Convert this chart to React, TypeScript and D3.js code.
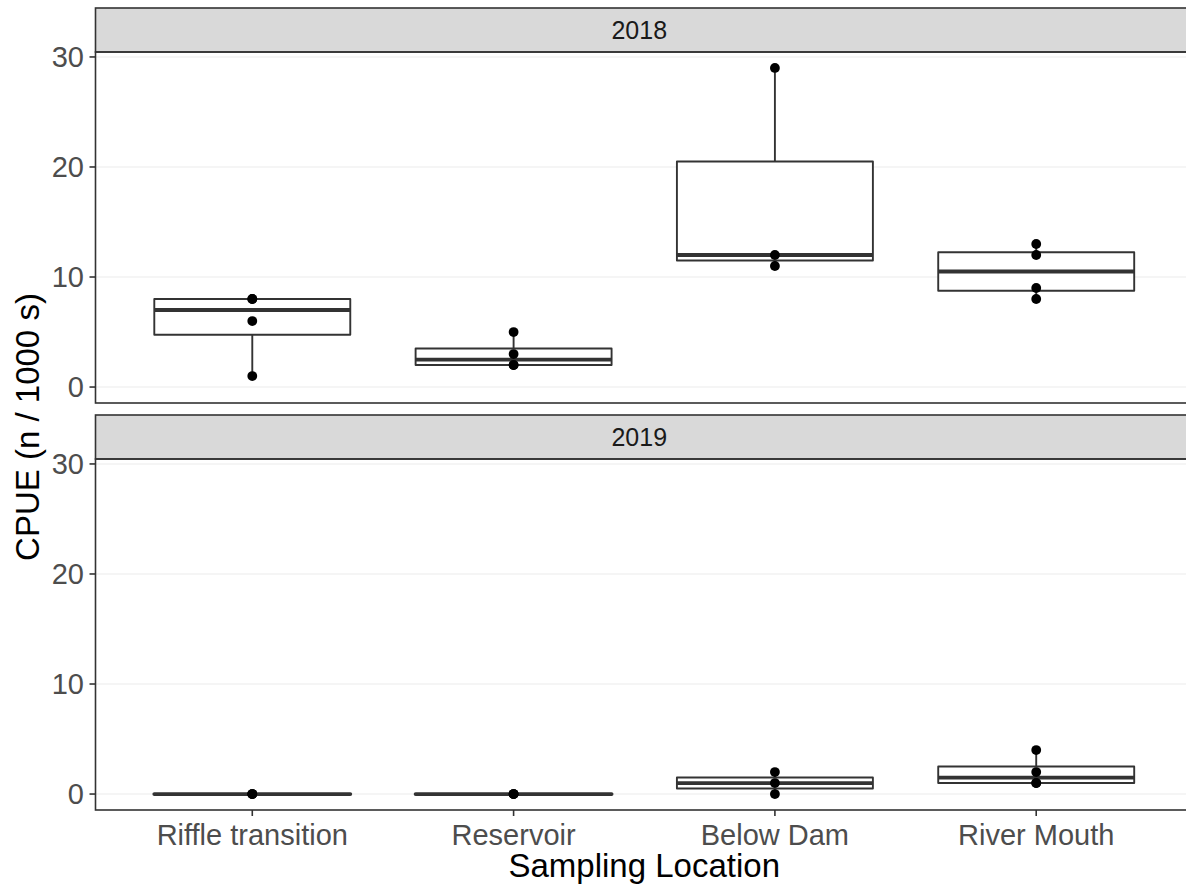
import React from "react";
import * as d3 from "d3";

const categories = ["Riffle transition", "Reservoir", "Below Dam", "River Mouth"];
const years = ["2018", "2019"];
const cpue2018 = [[1, 6, 8, 8], [2, 2, 3, 5], [11, 12, 29], [8, 9, 12, 13]];
const cpue2019 = [[0, 0, 0], [0, 0, 0], [0, 1, 2], [1, 1, 2, 4]];
const yTicks = [0, 10, 20, 30];

const W = 1186;
const H = 886;
const FONT = "'Liberation Sans', Arial, Helvetica, sans-serif";
const panelLeft = 95.5;
const panelRight = 1193;
const panels = [
  { stripTop: 8, plotTop: 52, plotBottom: 403 },
  { stripTop: 415, plotTop: 459, plotBottom: 810 },
];
const seriesByYear = [cpue2018, cpue2019];

function boxStats(vals: number[]) {
  const s = [...vals].sort((a, b) => a - b);
  const q1 = d3.quantile(s, 0.25) as number;
  const med = d3.quantile(s, 0.5) as number;
  const q3 = d3.quantile(s, 0.75) as number;
  const iqr = q3 - q1;
  const lo = d3.min(s.filter((v) => v >= q1 - 1.5 * iqr)) as number;
  const hi = d3.max(s.filter((v) => v <= q3 + 1.5 * iqr)) as number;
  return { q1, med, q3, lo, hi };
}

export default function App() {
  const allVals = [...cpue2018.flat(), ...cpue2019.flat()];
  const dmin = d3.min(allVals) as number;
  const dmax = d3.max(allVals) as number;
  const pad = (dmax - dmin) * 0.05;
  const x = d3.scalePoint<string>().domain(categories).range([panelLeft, panelRight]).padding(0.6);
  const bw = x.step() * 0.75;
  const stroke = "#333333";

  return (
    <div style={{ position: "absolute", left: 0, top: 0 }}>
      <svg width={W} height={H} style={{ display: "block", overflow: "hidden" }}>
        <rect x={0} y={0} width={W} height={H} fill="#ffffff" />
        {panels.map((p, pi) => {
          const y = d3.scaleLinear().domain([dmin - pad, dmax + pad]).range([p.plotBottom, p.plotTop]);
          const data = seriesByYear[pi];
          return (
            <g key={pi}>
              {/* strip */}
              <rect x={panelLeft} y={p.stripTop} width={panelRight - panelLeft} height={p.plotTop - p.stripTop}
                fill="#d9d9d9" stroke={stroke} strokeWidth={1.6} />
              <text x={(panelLeft + panelRight) / 2 - 5} y={(p.stripTop + p.plotTop) / 2 + 9} textAnchor="middle"
                fontFamily={FONT} fontSize={25} fill="#1a1a1a">{years[pi]}</text>
              {/* grid */}
              {yTicks.map((t) => (
                <line key={t} x1={panelLeft} x2={panelRight} y1={y(t)} y2={y(t)} stroke="#ebebeb" strokeWidth={1.1} />
              ))}
              {/* boxes */}
              {data.map((vals, ci) => {
                const st = boxStats(vals);
                const cx = x(categories[ci]) as number;
                const x0 = cx - bw / 2;
                const x1 = cx + bw / 2;
                return (
                  <g key={ci}>
                    <line x1={cx} x2={cx} y1={y(st.q3)} y2={y(st.hi)} stroke={stroke} strokeWidth={1.9} />
                    <line x1={cx} x2={cx} y1={y(st.q1)} y2={y(st.lo)} stroke={stroke} strokeWidth={1.9} />
                    <path d={`M${x0},${y(st.q1)}H${x1}V${y(st.q3)}H${x0}Z`} fill="#ffffff" stroke={stroke}
                      strokeWidth={1.9} strokeLinejoin="round" />
                    <line x1={x0} x2={x1} y1={y(st.med)} y2={y(st.med)} stroke={stroke} strokeWidth={3.8}
                      strokeLinecap={st.q1 === st.q3 ? "round" : "butt"} />
                    {vals.map((v, vi) => (
                      <circle key={vi} cx={cx} cy={y(v)} r={4.9} fill="#000000" />
                    ))}
                  </g>
                );
              })}
              {/* panel border */}
              <rect x={panelLeft} y={p.plotTop} width={panelRight - panelLeft} height={p.plotBottom - p.plotTop}
                fill="none" stroke={stroke} strokeWidth={1.6} />
              {/* y axis */}
              {yTicks.map((t) => (
                <g key={t}>
                  <line x1={panelLeft - 6} x2={panelLeft} y1={y(t)} y2={y(t)} stroke={stroke} strokeWidth={1.6} />
                  <text x={84} y={y(t) + 10} textAnchor="end" fontFamily={FONT} fontSize={29} fill="#4d4d4d">{t}</text>
                </g>
              ))}
              {/* x axis on bottom panel */}
              {pi === panels.length - 1 &&
                categories.map((c) => (
                  <g key={c}>
                    <line x1={x(c)} x2={x(c)} y1={p.plotBottom} y2={p.plotBottom + 6} stroke={stroke} strokeWidth={1.6} />
                    <text x={x(c)} y={p.plotBottom + 35} textAnchor="middle" fontFamily={FONT} fontSize={29}
                      fill="#4d4d4d">{c}</text>
                  </g>
                ))}
            </g>
          );
        })}
        <text x={(panelLeft + panelRight) / 2} y={877} textAnchor="middle" fontFamily={FONT} fontSize={33}
          fill="#000000">Sampling Location</text>
        <text transform={`translate(39,${(panels[0].stripTop + panels[1].plotBottom) / 2 + 18}) rotate(-90)`}
          textAnchor="middle" fontFamily={FONT} fontSize={33} fill="#000000">CPUE (n / 1000 s)</text>
      </svg>
    </div>
  );
}
